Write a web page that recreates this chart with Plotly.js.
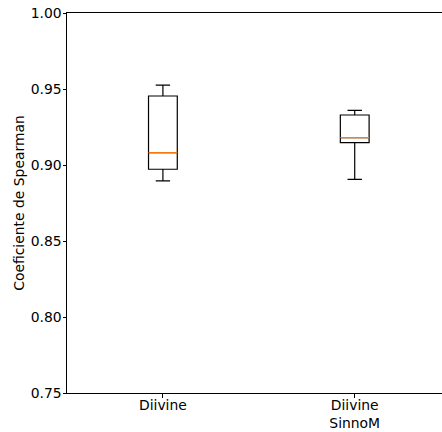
<!DOCTYPE html>
<html>
<head>
<meta charset="utf-8">
<script src="https://cdn.plot.ly/plotly-3.0.1.min.js"></script>
<style>html,body{margin:0;padding:0;background:#fff;overflow:hidden;}</style>
</head>
<body>
<div id="chart" style="width:442px;height:432px;"></div>
<script>
const categories = ["Diivine", "Diivine<br>SinnoM"];
const positions = [1, 2];
const lowerWhisker = [0.8895, 0.8906];
const q1Values = [0.8972, 0.9147];
const medianValues = [0.9081, 0.9180];
const q3Values = [0.9454, 0.9329];
const upperWhisker = [0.9526, 0.9360];
const yTicks = [0.75, 0.80, 0.85, 0.90, 0.95, 1.00];

const boxWidth = 0.15;
const medX = [], medY = [];
positions.forEach((p, i) => {
  medX.push(p - boxWidth / 2, p + boxWidth / 2, null);
  medY.push(medianValues[i], medianValues[i], null);
});

const font = "DejaVu Sans, sans-serif";
const fs = 13.9;
const data = [
  {
    type: "box",
    x: positions,
    q1: q1Values,
    median: medianValues,
    q3: q3Values,
    lowerfence: lowerWhisker,
    upperfence: upperWhisker,
    width: boxWidth,
    whiskerwidth: 0.5,
    fillcolor: "rgba(255,255,255,0)",
    line: {color: "#000000", width: 1.2},
    boxpoints: false,
    showlegend: false,
    hoverinfo: "skip"
  },
  {
    type: "scatter",
    mode: "lines",
    x: medX,
    y: medY,
    line: {color: "#ff7f0e", width: 1.3},
    showlegend: false,
    hoverinfo: "skip"
  }
];

const layout = {
  width: 442,
  height: 432,
  margin: {l: 67, r: 0, t: 13, b: 39, pad: 0},
  paper_bgcolor: "#ffffff",
  plot_bgcolor: "#ffffff",
  font: {family: font, size: fs, color: "#000000"},
  showlegend: false,
  xaxis: {
    range: [0.5, 2.455],
    tickvals: positions,
    ticktext: categories,
    ticks: "outside",
    ticklen: 3.5,
    tickwidth: 1,
    tickcolor: "#000000",
    showline: true,
    linecolor: "#000000",
    linewidth: 1,
    mirror: true,
    showgrid: false,
    zeroline: false,
    ticklabelstandoff: -4,
    tickfont: {family: font, size: fs, color: "#000000"}
  },
  yaxis: {
    range: [0.75, 1.0],
    tickvals: yTicks,
    tickformat: ".2f",
    ticks: "outside",
    ticklen: 3.5,
    tickwidth: 1,
    tickcolor: "#000000",
    showline: true,
    linecolor: "#000000",
    linewidth: 1,
    showgrid: false,
    zeroline: false,
    ticklabelstandoff: -2,
    tickfont: {family: font, size: fs, color: "#000000"},
    title: {text: "Coeficiente de Spearman", font: {family: font, size: fs, color: "#000000"}, standoff: 2}
  }
};

Plotly.newPlot("chart", data, layout, {displayModeBar: false, staticPlot: true});
</script>
</body>
</html>
